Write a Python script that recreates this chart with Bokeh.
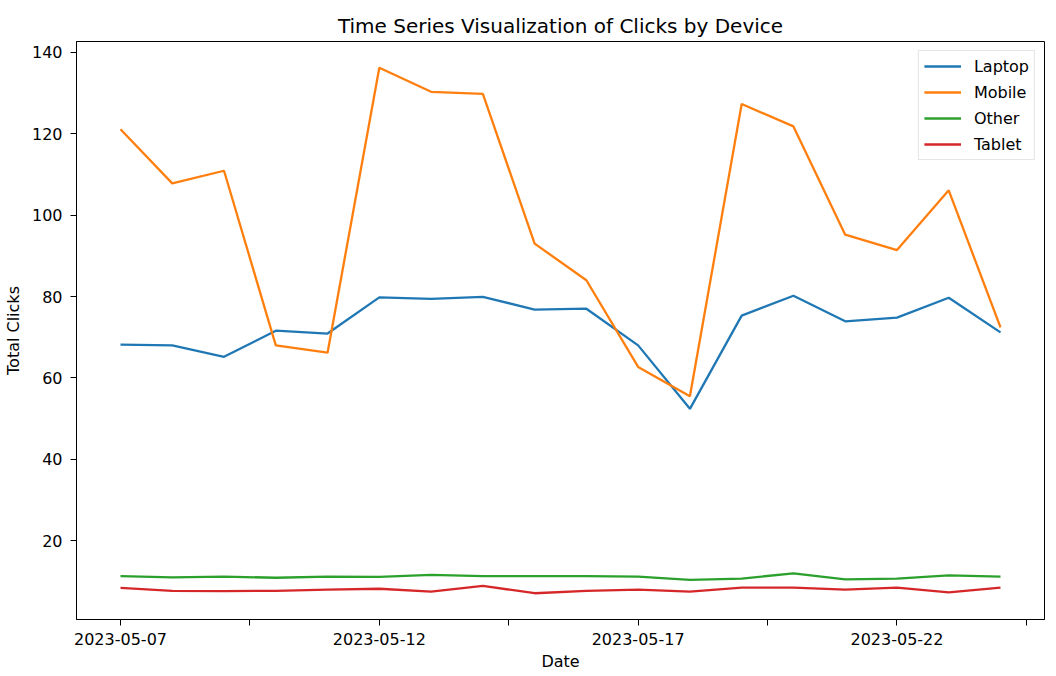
from datetime import datetime, timezone
from bokeh.plotting import figure
from bokeh.models import Range1d, FixedTicker, DatetimeTickFormatter
from bokeh.embed import file_html
from bokeh.resources import INLINE

# ---------------- data ----------------
dates = ["2023-05-07", "2023-05-08", "2023-05-09", "2023-05-10", "2023-05-11", "2023-05-12",
         "2023-05-13", "2023-05-14", "2023-05-15", "2023-05-16", "2023-05-17", "2023-05-18",
         "2023-05-19", "2023-05-20", "2023-05-21", "2023-05-22", "2023-05-23", "2023-05-24"]
laptop = [68.2, 68.0, 65.2, 71.6, 70.9, 79.8, 79.4, 79.9, 76.8, 77.0, 68.0, 52.4,
          75.3, 80.2, 73.9, 74.8, 79.7, 71.2]
mobile = [121.1, 107.8, 110.9, 68.0, 66.2, 136.2, 130.3, 129.8, 93.0, 84.0, 62.7, 55.5,
          127.3, 121.8, 95.2, 91.4, 106.1, 72.4]
other = [11.3, 11.0, 11.2, 10.9, 11.2, 11.1, 11.6, 11.3, 11.3, 11.3, 11.2, 10.4,
         10.7, 12.0, 10.5, 10.7, 11.5, 11.2]
tablet = [8.4, 7.7, 7.6, 7.7, 8.0, 8.2, 7.5, 8.9, 7.1, 7.7, 8.0, 7.5,
          8.5, 8.5, 8.0, 8.5, 7.3, 8.5]
series_names = ["Laptop", "Mobile", "Other", "Tablet"]
series_colors = ["#1f77b4", "#ff7f0e", "#2ca02c", "#d62728"]

x_tick_labels = ["2023-05-07", "2023-05-12", "2023-05-17", "2023-05-22"]
x_tick_unlabeled = ["2023-05-09 12:00", "2023-05-14 12:00", "2023-05-19 12:00", "2023-05-24 12:00"]
y_ticks = [20, 40, 60, 80, 100, 120, 140]

# --------------------------------------
def parse(s):
    fmt = "%Y-%m-%d %H:%M" if " " in s else "%Y-%m-%d"
    return datetime.strptime(s, fmt).replace(tzinfo=timezone.utc)

def to_ms(s):
    return parse(s).timestamp() * 1000.0

xs = [to_ms(d) for d in dates]
span = xs[-1] - xs[0]
all_vals = laptop + mobile + other + tablet
vmin, vmax = min(all_vals), max(all_vals)
vspan = vmax - vmin

FONT = "DejaVu Sans"

p = figure(frame_width=968, frame_height=578, x_axis_type="datetime",
           output_backend="svg", toolbar_location=None,
           x_range=Range1d(xs[0] - 0.05 * span, xs[-1] + 0.05 * span),
           y_range=Range1d(vmin - 0.05 * vspan, vmax + 0.05 * vspan),
           min_border_left=71, min_border_right=1, min_border_top=41, min_border_bottom=30)

for name, vals, col in zip(series_names, [laptop, mobile, other, tablet], series_colors):
    p.line(xs, vals, line_color=col, line_width=2.3, legend_label=name)

p.title.text = "Time Series Visualization of Clicks by Device"
p.title.align = "center"
p.title.text_font = FONT
p.title.text_font_size = "20px"
p.title.text_font_style = "normal"
p.title.text_color = "black"
p.title.standoff = 8

p.grid.visible = False
p.outline_line_color = "black"
p.outline_line_width = 1
p.background_fill_color = "white"
p.border_fill_color = "white"

fmt = "%Y-%m-%d"
p.xaxis.ticker = FixedTicker(ticks=[to_ms(s) for s in x_tick_labels],
                             minor_ticks=[to_ms(s) for s in x_tick_unlabeled])
p.xaxis.formatter = DatetimeTickFormatter(microseconds=fmt, milliseconds=fmt, seconds=fmt,
                                          minsec=fmt, minutes=fmt, hourmin=fmt, hours=fmt,
                                          days=fmt, months=fmt, years=fmt)
p.yaxis.ticker = FixedTicker(ticks=y_ticks, minor_ticks=[])

for ax in (p.xaxis, p.yaxis):
    ax.axis_line_color = "black"
    ax.axis_line_width = 1
    ax.major_tick_line_color = "black"
    ax.minor_tick_line_color = "black"
    ax.major_tick_out = 6
    ax.major_tick_in = 0
    ax.minor_tick_out = 6
    ax.minor_tick_in = 0
    ax.major_label_text_font = FONT
    ax.major_label_text_font_size = "16px"
    ax.major_label_text_color = "black"
    ax.axis_label_text_font = FONT
    ax.axis_label_text_font_size = "16px"
    ax.axis_label_text_font_style = "normal"
    ax.axis_label_text_color = "black"

p.xaxis.axis_label = "Date"
p.yaxis.axis_label = "Total Clicks"
p.xaxis.major_label_standoff = 7
p.xaxis.axis_label_standoff = 4
p.yaxis.major_label_standoff = 8
p.yaxis.axis_label_standoff = 6

lg = p.legend[0]
lg.location = "top_right"
lg.margin = 9
lg.padding = 5
lg.spacing = 6
lg.label_standoff = 13
lg.glyph_width = 37
lg.glyph_height = 20
lg.label_height = 20
lg.label_text_font = FONT
lg.label_text_font_size = "16px"
lg.label_text_color = "black"
lg.border_line_color = "#cccccc"
lg.border_line_width = 1
lg.background_fill_color = "white"
lg.background_fill_alpha = 0.8

open("out.html", "w").write(file_html(p, INLINE))
